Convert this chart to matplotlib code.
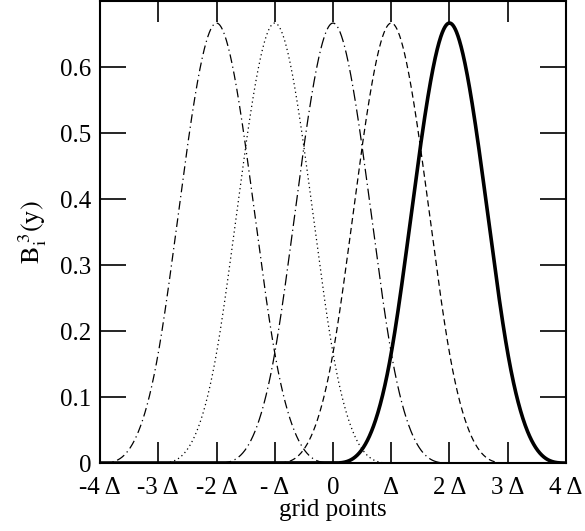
import numpy as np
import matplotlib.pyplot as plt

plt.rcParams['font.family'] = ['Liberation Serif', 'DejaVu Serif']
plt.rcParams['mathtext.fontset'] = 'stix'

# spline centres (in units of grid spacing) and their line styles
centres = [-2, -1, 0, 1, 2]
styles = [(0, (7, 3, 1, 3)), (0, (1, 2.5)), (0, (9, 3, 1, 3)), (0, (5, 3)), '-']
widths = [0.9, 0.9, 0.9, 0.9, 2.6]

tick_pos = [-4, -3, -2, -1, 0, 1, 2, 3, 4]
tick_lab = ['-4 Δ', '-3 Δ', '-2 Δ', '- Δ', '0', 'Δ', '2 Δ', '3 Δ', '4 Δ']
ytick_pos = [0, 0.1, 0.2, 0.3, 0.4, 0.5, 0.6]
ytick_lab = ['0', '0.1', '0.2', '0.3', '0.4', '0.5', '0.6']


def bspline3(x, c):
    t = np.abs(x - c)
    y = np.where(t < 1, 2/3 - t**2 + t**3 / 2, (2 - t)**3 / 6)
    return np.where(t < 2, y, 0.0)


fig = plt.figure(figsize=(5.85, 5.31), dpi=100)
ax = fig.add_axes([0.171, 0.128, 0.7965, 0.870])

x = np.linspace(-4, 4, 1601)
for c, ls, lw in zip(centres, styles, widths):
    ax.plot(x, bspline3(x, c), color='black', linestyle=ls, linewidth=lw)

ax.set_xlim(-4, 4)
ax.set_ylim(0, 0.7)
ax.set_xticks(tick_pos)
ax.set_xticklabels(tick_lab)
ax.set_yticks(ytick_pos)
ax.set_yticklabels(ytick_lab)
ax.tick_params(direction='in', top=True, right=True, length=15, width=1.2,
               labelsize=18)
ax.tick_params(axis='x', pad=10)
ax.tick_params(axis='y', length=19, pad=6)
for s in ax.spines.values():
    s.set_linewidth(1.5)

ax.set_xlabel('grid points', fontsize=18, labelpad=0)
ax.set_ylabel(r'$\mathrm{B}_{\mathrm{i}}^{\;3}\mathrm{(y)}$', fontsize=19, labelpad=8)

fig.savefig('out.png', dpi=100)
